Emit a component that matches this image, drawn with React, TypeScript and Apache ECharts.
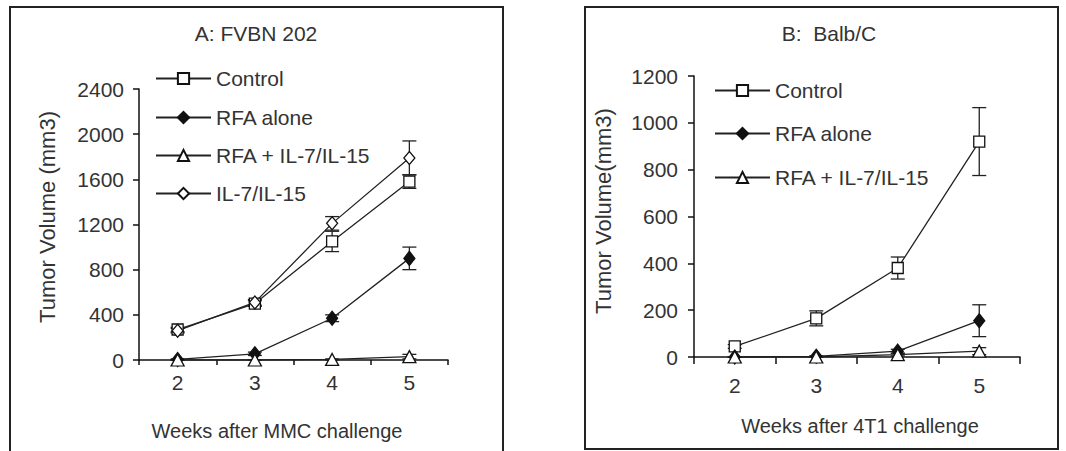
import React, { useEffect, useRef } from "react";
import * as echarts from "echarts";

const weeks = ["2", "3", "4", "5"];

// Panel A: FVBN 202
const aControl = [270, 500, 1050, 1580];
const aControlErr = [20, 25, 90, 60];
const aRfa = [5, 55, 370, 900];
const aRfaErr = [5, 15, 30, 100];
const aRfaIl = [0, 0, 5, 30];
const aRfaIlErr = [0, 0, 5, 20];
const aIl = [260, 510, 1210, 1790];
const aIlErr = [20, 25, 60, 150];

// Panel B: Balb/C
const bControl = [45, 165, 380, 920];
const bControlErr = [8, 32, 47, 145];
const bRfa = [0, 3, 25, 155];
const bRfaErr = [0, 2, 8, 68];
const bRfaIl = [0, 0, 10, 25];
const bRfaIlErr = [0, 0, 5, 15];

const FONT = "'Liberation Sans', Arial, sans-serif";
const TXT = "#333";
const LINE = "#222";

const styles: Record<string, any> = {
  Control: { symbol: "rect", symbolSize: 11, fill: "#fff" },
  "RFA alone": { symbol: "diamond", symbolSize: [11, 14], fill: "#111" },
  "RFA + IL-7/IL-15": { symbol: "triangle", symbolSize: [13, 12], fill: "#fff" },
  "IL-7/IL-15": { symbol: "diamond", symbolSize: [11, 13], fill: "#fff" },
};

function lineSeries(name: string, data: number[], gi: number) {
  const s = styles[name];
  return {
    type: "line",
    name,
    xAxisIndex: gi,
    yAxisIndex: gi,
    data,
    symbol: s.symbol,
    symbolSize: s.symbolSize,
    showAllSymbol: true,
    itemStyle: { color: s.fill, borderColor: "#111", borderWidth: 1.3 },
    lineStyle: { color: LINE, width: 1.3 },
    z: 3,
  };
}

function errSeries(vals: number[], errs: number[], gi: number) {
  return {
    type: "custom",
    xAxisIndex: gi,
    yAxisIndex: gi,
    z: 1,
    silent: true,
    data: vals.map((v, i) => [i, Math.max(0, v - errs[i]), v + errs[i]]),
    renderItem: (params: any, api: any) => {
      const x = api.value(0);
      const lo = api.coord([x, api.value(1)]);
      const hi = api.coord([x, api.value(2)]);
      const w = 7;
      const st = { stroke: LINE, lineWidth: 1.3 };
      return {
        type: "group",
        children: [
          { type: "line", shape: { x1: hi[0], y1: hi[1], x2: lo[0], y2: lo[1] }, style: st },
          { type: "line", shape: { x1: hi[0] - w, y1: hi[1], x2: hi[0] + w, y2: hi[1] }, style: st },
          { type: "line", shape: { x1: lo[0] - w, y1: lo[1], x2: lo[0] + w, y2: lo[1] }, style: st },
        ],
      };
    },
  };
}

function legendAt(name: string, left: number, top: number) {
  return {
    data: [name],
    orient: "vertical",
    left,
    top,
    padding: 0,
    itemWidth: 55,
    itemHeight: 14,
    selectedMode: false,
    textStyle: { fontFamily: FONT, fontSize: 21, color: TXT, lineHeight: 20 },
  };
}

function xAxisCfg(gi: number, margin: number, tickLen: number) {
  return {
    type: "category",
    gridIndex: gi,
    data: weeks,
    boundaryGap: true,
    axisLine: { show: true, lineStyle: { color: "#111", width: 1.5 } },
    axisTick: { show: true, length: tickLen, lineStyle: { color: "#111", width: 1.5 } },
    axisLabel: { fontFamily: FONT, fontSize: 21, color: TXT, margin },
    splitLine: { show: false },
  };
}

function yAxisCfg(gi: number, max: number, interval: number, margin: number) {
  return {
    type: "value",
    gridIndex: gi,
    min: 0,
    max,
    interval,
    axisLine: { show: true, lineStyle: { color: "#111", width: 1.5 } },
    axisTick: { show: true, length: 6, lineStyle: { color: "#111", width: 1.5 } },
    axisLabel: {
      fontFamily: FONT,
      fontSize: 21,
      color: TXT,
      margin,
      formatter: (v: number) => String(v),
    },
    splitLine: { show: false },
  };
}

function txt(text: string, x: number, y: number, size: number, rotate = false) {
  return {
    type: "text",
    x,
    y,
    rotation: rotate ? Math.PI / 2 : 0,
    style: {
      text,
      align: "center",
      verticalAlign: "middle",
      fontFamily: FONT,
      fontSize: size,
      fill: TXT,
    },
  };
}

export default function App() {
  const ref = useRef<HTMLDivElement>(null);
  useEffect(() => {
    if (!ref.current) return;
    const chart = echarts.init(ref.current, undefined, { renderer: "svg" });
    chart.setOption({
      animation: false,
      backgroundColor: "#fff",
      grid: [
        { left: 139, top: 89, width: 309, height: 271 },
        { left: 694, top: 76, width: 326, height: 281 },
      ],
      xAxis: [xAxisCfg(0, 12, 5), xAxisCfg(1, 18, 7)],
      yAxis: [yAxisCfg(0, 2400, 400, 15), yAxisCfg(1, 1200, 200, 16)],
      legend: [
        legendAt("Control", 155, 68),
        legendAt("RFA alone", 155, 107),
        legendAt("RFA + IL-7/IL-15", 155, 145),
        legendAt("IL-7/IL-15", 155, 183),
        legendAt("Control", 714, 80),
        legendAt("RFA alone", 714, 123),
        legendAt("RFA + IL-7/IL-15", 714, 167),
      ],
      graphic: [
        { type: "rect", shape: { x: 10, y: 7, width: 493, height: 470 }, style: { fill: "none", stroke: "#222", lineWidth: 2 } },
        { type: "rect", shape: { x: 585, y: 7, width: 473, height: 442 }, style: { fill: "none", stroke: "#222", lineWidth: 2 } },
        txt("A: FVBN 202", 256, 33, 21),
        txt("B:  Balb/C", 829, 33, 21),
        txt("Tumor Volume (mm3)", 47, 217, 22, true),
        txt("Tumor Volume(mm3)", 603, 211, 22, true),
        txt("Weeks after MMC challenge", 277, 431, 20),
        txt("Weeks after 4T1 challenge", 860, 426, 20),
      ],
      series: [
        errSeries(aControl, aControlErr, 0),
        errSeries(aRfa, aRfaErr, 0),
        errSeries(aRfaIl, aRfaIlErr, 0),
        errSeries(aIl, aIlErr, 0),
        lineSeries("Control", aControl, 0),
        lineSeries("RFA alone", aRfa, 0),
        lineSeries("RFA + IL-7/IL-15", aRfaIl, 0),
        lineSeries("IL-7/IL-15", aIl, 0),
        errSeries(bControl, bControlErr, 1),
        errSeries(bRfa, bRfaErr, 1),
        errSeries(bRfaIl, bRfaIlErr, 1),
        lineSeries("Control", bControl, 1),
        lineSeries("RFA alone", bRfa, 1),
        lineSeries("RFA + IL-7/IL-15", bRfaIl, 1),
      ],
    });
    return () => chart.dispose();
  }, []);
  return (
    <div
      ref={ref}
      style={{ position: "fixed", left: 0, top: 0, width: 1066, height: 451 }}
    />
  );
}
